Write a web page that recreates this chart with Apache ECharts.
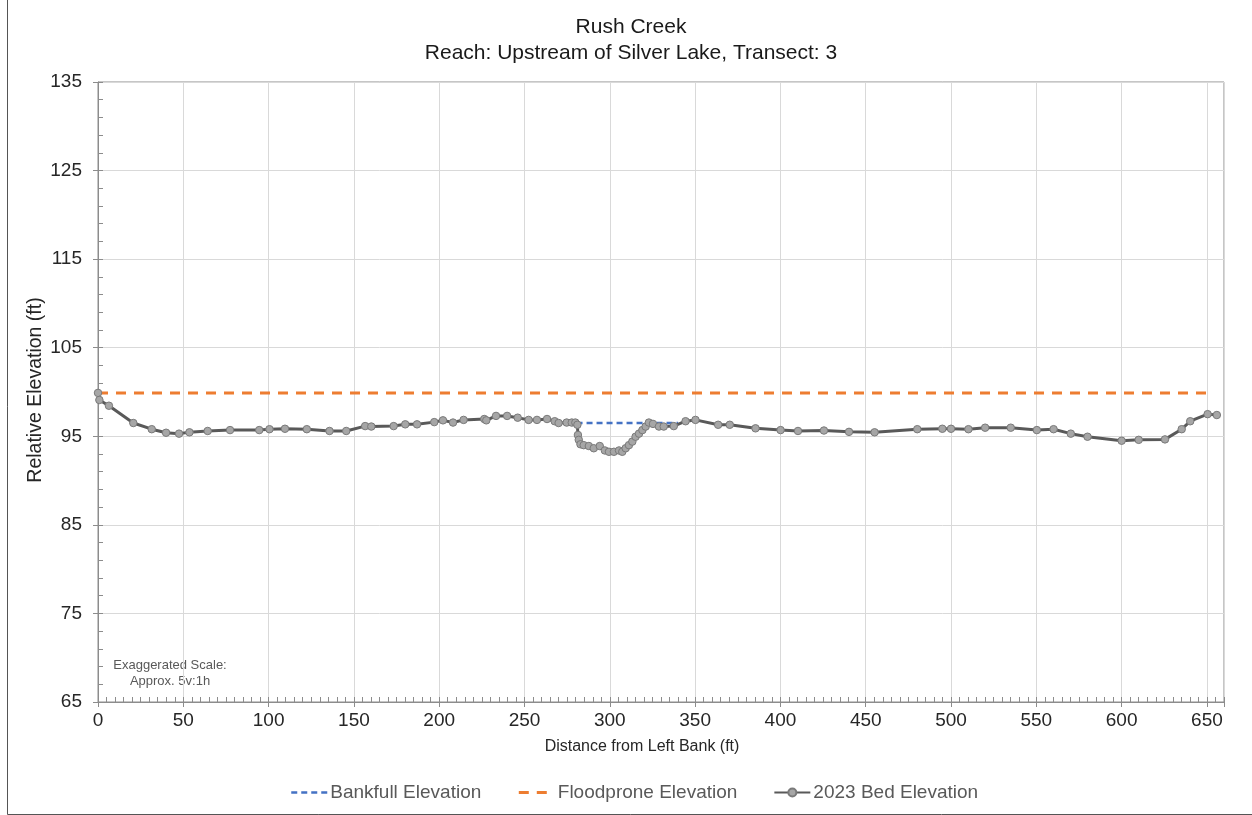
<!DOCTYPE html>
<html>
<head>
<meta charset="utf-8">
<title>Rush Creek – Transect 3</title>
<script src="https://cdn.jsdelivr.net/npm/echarts@6/dist/echarts.min.js"></script>
<style>
  html, body { margin: 0; padding: 0; background: #ffffff; }
  #chart { width: 1252px; height: 815px; }
</style>
</head>
<body>
<div id="chart"></div>
<script>
// Surveyed bed profile: distance from left bank (ft) and relative elevation (ft)
const bedDistance = [
  0, 0.8, 6.4, 20.7, 31.5, 39.9, 47.5, 53.6, 64.3, 77.4,
  94.5, 100.5, 109.6, 122.4, 135.7, 145.5, 156.6, 160.2, 173.3, 180.1,
  187, 197.1, 202.2, 208.1, 214.3, 226.4, 227.6, 233.3, 239.8, 246,
  252.4, 257.3, 263.2, 267.7, 270, 274.7, 277.7, 279.8, 281.0, 281.3,
  281.8, 282.8, 284.7, 287.7, 290.6, 294.1, 297.1, 299.5, 302.4, 305.4,
  307.3, 309.3, 311.2, 313.2, 315.1, 317.1, 319.1, 321, 322.9, 325.3,
  328.8, 331.6, 337.5, 344.4, 350.2, 363.5, 370.3, 385.4, 400.1, 410.3,
  425.5, 440.2, 455.2, 480.2, 494.9, 500, 510.2, 520, 535, 550.3,
  560.1, 570.2, 580, 600, 610, 625.4, 635.2, 640.2, 650.4, 655.8
];
const bedElevation = [
  99.9, 99.1, 98.45, 96.5, 95.8, 95.4, 95.3, 95.45, 95.6, 95.7,
  95.7, 95.8, 95.85, 95.8, 95.6, 95.6, 96.15, 96.1, 96.15, 96.35,
  96.35, 96.6, 96.8, 96.55, 96.85, 96.95, 96.8, 97.3, 97.3, 97.1,
  96.85, 96.85, 96.95, 96.7, 96.5, 96.55, 96.55, 96.55, 96.3, 95.15,
  94.6, 94.1, 94.0, 93.9, 93.65, 93.9, 93.4, 93.25, 93.25, 93.4,
  93.25, 93.65, 94.0, 94.4, 94.95, 95.3, 95.7, 96.1, 96.55, 96.4,
  96.1, 96.1, 96.15, 96.7, 96.85, 96.3, 96.3, 95.9, 95.7, 95.6,
  95.65, 95.5, 95.45, 95.8, 95.85, 95.85, 95.8, 95.97, 95.97, 95.7,
  95.8, 95.3, 94.95, 94.5, 94.6, 94.65, 95.8, 96.7, 97.5, 97.4
];

// Reference water-surface lines
const bankfullDistance = [280.5, 340];
const bankfullElevation = [96.5, 96.5];
const floodproneDistance = [0, 650];
const floodproneElevation = [99.9, 99.9];

const seriesNames = ['Bankfull Elevation', 'Floodprone Elevation', '2023 Bed Elevation'];

const pairs = (xs, ys) => xs.map((x, i) => [x, ys[i]]);

const FONT = 'Liberation Sans, Arial, sans-serif';
const tickFont = { fontFamily: FONT, fontSize: 19, color: '#262626' };
const axisGray = '#8c8c8c';
const gridGray = '#d9d9d9';

const chart = echarts.init(document.getElementById('chart'), null, { renderer: 'canvas' });

chart.setOption({
  backgroundColor: '#ffffff',
  animation: false,
  title: {
    text: 'Rush Creek\nReach: Upstream of Silver Lake, Transect: 3',
    left: 626,
    top: 9,
    textAlign: 'center',
    textStyle: {
      fontFamily: FONT,
      fontSize: 21,
      fontWeight: 'normal',
      color: '#1a1a1a',
      lineHeight: 26
    }
  },
  grid: {
    left: 98, right: 28, top: 82, bottom: 113,
    show: true, borderColor: axisGray, borderWidth: 1, backgroundColor: 'transparent'
  },
  legend: {
    bottom: 8,
    left: 285,
    itemGap: 36,
    itemWidth: 36,
    itemHeight: 10,
    textStyle: { fontFamily: FONT, fontSize: 19, color: '#595959', padding: [0, 0, 0, -2] },
    data: [
      { name: seriesNames[0], itemStyle: { opacity: 0 }, lineStyle: { type: [6, 4], width: 2.5 } },
      { name: seriesNames[1], itemStyle: { opacity: 0 }, lineStyle: { type: [10, 8], width: 3 } },
      { name: seriesNames[2] }
    ]
  },
  xAxis: [
    {
      type: 'value', min: 0, max: 660, interval: 50,
      axisLine: { show: true, lineStyle: { color: axisGray, width: 1 } },
      axisTick: { show: true, inside: true, length: 5, lineStyle: { color: axisGray } },
      minorTick: { show: true, splitNumber: 10, length: 5, lineStyle: { color: axisGray } },
      axisLabel: Object.assign({ margin: 9, showMaxLabel: false }, tickFont),
      splitLine: { show: true, lineStyle: { color: gridGray, width: 1 } }
    },
    {
      // outer half of the major ticks
      type: 'value', min: 0, max: 660, interval: 50, position: 'bottom',
      axisLine: { show: false },
      axisTick: { show: true, inside: false, length: 5, lineStyle: { color: axisGray } },
      axisLabel: { show: false },
      splitLine: { show: false }
    }
  ],
  yAxis: [
    {
      type: 'value', min: 65, max: 135, interval: 10,
      axisLine: { show: true, lineStyle: { color: axisGray, width: 1 } },
      axisTick: { show: true, inside: true, length: 5, lineStyle: { color: axisGray } },
      minorTick: { show: true, splitNumber: 5, length: 5, lineStyle: { color: axisGray } },
      axisLabel: Object.assign({ margin: 16 }, tickFont),
      splitLine: { show: true, lineStyle: { color: gridGray, width: 1 } }
    },
    {
      type: 'value', min: 65, max: 135, interval: 10, position: 'left',
      axisLine: { show: false },
      axisTick: { show: true, inside: false, length: 5, lineStyle: { color: axisGray } },
      axisLabel: { show: false },
      splitLine: { show: false }
    }
  ],
  series: [
    {
      name: seriesNames[0],
      type: 'line',
      data: pairs(bankfullDistance, bankfullElevation),
      showSymbol: false,
      symbol: 'none',
      color: '#4472C4',
      lineStyle: { color: '#4472C4', width: 2.5, type: [6, 4] },
      z: 3
    },
    {
      name: seriesNames[1],
      type: 'line',
      data: pairs(floodproneDistance, floodproneElevation),
      showSymbol: false,
      symbol: 'none',
      color: '#ED7D31',
      lineStyle: { color: '#ED7D31', width: 3, type: [10, 8] },
      z: 3
    },
    {
      name: seriesNames[2],
      type: 'line',
      data: pairs(bedDistance, bedElevation),
      symbol: 'circle',
      symbolSize: 7.5,
      color: '#595959',
      lineStyle: { color: '#595959', width: 3 },
      itemStyle: { color: '#a6a6a6', borderColor: '#7a7a7a', borderWidth: 1 },
      z: 4
    }
  ],
  graphic: [
    {
      // vertical axis title
      type: 'text',
      x: 36,
      y: 390,
      rotation: Math.PI / 2,
      style: {
        text: 'Relative Elevation (ft)',
        align: 'center',
        verticalAlign: 'middle',
        fontFamily: FONT,
        fontSize: 19.5,
        fill: '#262626'
      }
    },
    {
      // horizontal axis title
      type: 'text',
      x: 642,
      y: 739,
      style: {
        text: 'Distance from Left Bank (ft)',
        align: 'center',
        fontFamily: FONT,
        fontSize: 16,
        fill: '#262626'
      }
    },
    {
      type: 'text',
      x: 170,
      y: 657,
      style: {
        text: 'Exaggerated Scale:\nApprox. 5v:1h',
        align: 'center',
        fontFamily: FONT,
        fontSize: 13,
        lineHeight: 16,
        fill: '#595959'
      }
    },
    {
      // frame of the figure
      type: 'rect',
      shape: { x: 7.5, y: -2, width: 1260, height: 816.5 },
      style: { fill: 'none', stroke: '#555555', lineWidth: 1 },
      silent: true
    }
  ]
});
</script>
</body>
</html>
